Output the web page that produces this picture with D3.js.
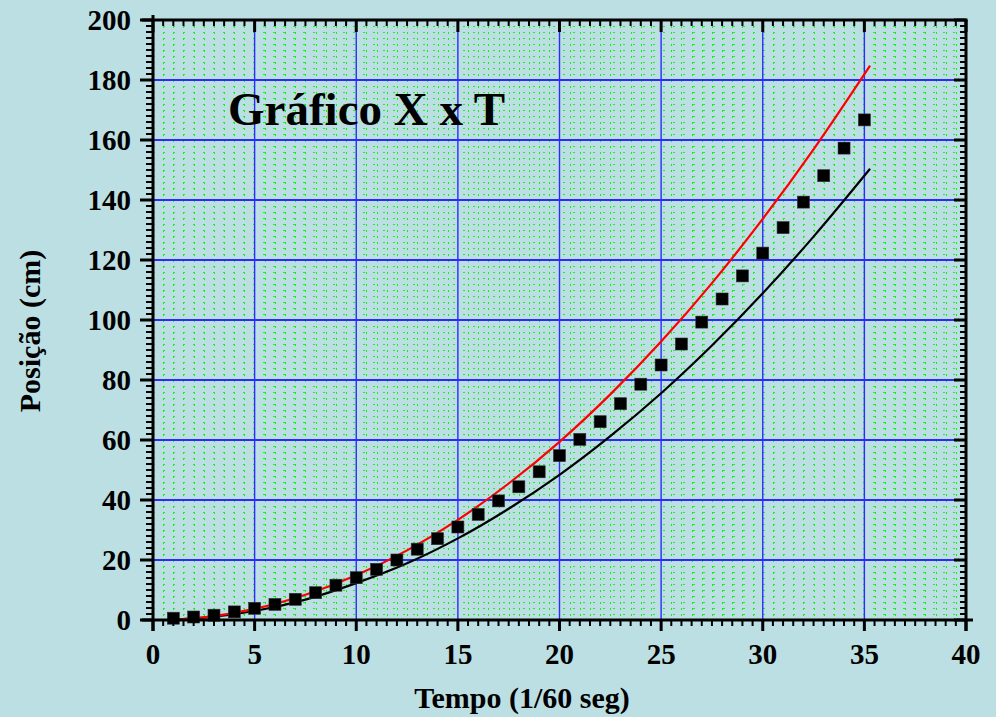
<!DOCTYPE html>
<html><head><meta charset="utf-8">
<script src="https://cdn.jsdelivr.net/npm/d3@7"></script>
<style>
html,body{margin:0;padding:0;background:#bcdfe3;}
svg{display:block;}
text{font-family:"Liberation Serif","Times New Roman",serif;font-weight:bold;fill:#000;}
</style></head>
<body>
<svg id="c" width="996" height="717"></svg>
<script>
// ---- data ----
const tempo = [1,2,3,4,5,6,7,8,9,10,11,12,13,14,15,16,17,18,19,20,21,22,23,24,25,26,27,28,29,30,31,32,33,34,35];
const posicao = [0.6,1.0,1.6,2.7,3.9,5.2,6.9,9.1,11.6,14.1,16.9,20.0,23.6,27.1,31.0,35.2,39.7,44.4,49.4,54.8,60.2,66.1,72.1,78.6,85.0,92.0,99.3,107.0,114.7,122.3,130.8,139.3,148.1,157.3,166.7];
const curveT = [1,2.5,5,7.5,10,12.5,15,17.5,20,22.5,25,27.5,30,32.5,35.28];
const redCurve = [0.15,0.9,3.7,8.4,14.9,23.2,33.4,45.5,59.4,75.2,92.8,112.3,133.7,156.9,184.8];
const blackCurve = [0.12,0.76,3.0,6.8,12.3,18.9,27.2,37.1,48.4,61.3,75.6,91.5,108.9,127.8,150.4];
const xTicks = [0,5,10,15,20,25,30,35,40];
const yTicks = [0,20,40,60,80,100,120,140,160,180,200];
const title = "Gráfico X x T";
const xTitle = "Tempo (1/60 seg)";
const yTitle = "Posição (cm)";

// ---- layout ----
const L = 153, R = 966, T = 20, B = 620;
const svg = d3.select("#c");
svg.append("rect").attr("width",996).attr("height",717).attr("fill","#bcdfe3");
const x = d3.scaleLinear().domain([0,40]).range([L,R]);
const y = d3.scaleLinear().domain([0,200]).range([B,T]);

// minor grid (green dotted)
const xMinor = d3.range(0,40.01,0.5).filter(v=>v%5!==0);
const yMinor = d3.range(0,200.01,2).filter(v=>v%20!==0);
const g = svg.append("g");
g.selectAll("line.vx").data(xMinor).join("line")
  .attr("x1",d=>Math.round(x(d))+0.5).attr("x2",d=>Math.round(x(d))+0.5)
  .attr("y1",T).attr("y2",B)
  .attr("stroke","#11f011").attr("stroke-width",1).attr("stroke-dasharray","2,4");
g.selectAll("line.hy").data(yMinor).join("line")
  .attr("y1",d=>Math.round(y(d))+0.5).attr("y2",d=>Math.round(y(d))+0.5)
  .attr("x1",L).attr("x2",R)
  .attr("stroke","#11f011").attr("stroke-width",1).attr("stroke-dasharray","2,8")
  .attr("opacity",0.9);

// major grid (blue)
g.selectAll("line.gx").data(xTicks.slice(1,-1)).join("line")
  .attr("x1",d=>x(d)).attr("x2",d=>x(d)).attr("y1",T).attr("y2",B)
  .attr("stroke","#2b2bff").attr("stroke-width",1.4);
g.selectAll("line.gy").data(yTicks.slice(1,-1)).join("line")
  .attr("y1",d=>y(d)).attr("y2",d=>y(d)).attr("x1",L).attr("x2",R)
  .attr("stroke","#2b2bff").attr("stroke-width",1.8);

// curves
const line = d3.line().x(d=>x(d[0])).y(d=>y(d[1])).curve(d3.curveMonotoneX);
svg.append("path").datum(curveT.map((t,i)=>[t,blackCurve[i]]))
  .attr("d",line).attr("fill","none").attr("stroke","#000").attr("stroke-width",2.2);
svg.append("path").datum(curveT.map((t,i)=>[t,redCurve[i]]))
  .attr("d",line).attr("fill","none").attr("stroke","#ff0000").attr("stroke-width",2.2);

// points
const s = 12;
svg.selectAll("rect.pt").data(tempo.map((t,i)=>[t,posicao[i]])).join("rect")
  .attr("x",d=>x(d[0])-s/2).attr("y",d=>y(d[1])-s/2)
  .attr("width",s).attr("height",s)
  .attr("fill","#000").attr("stroke","#333").attr("stroke-width",0.6);

// axes
const ax = svg.append("g");
function ln(x1,y1,x2,y2,w){ax.append("line").attr("x1",x1).attr("y1",y1).attr("x2",x2).attr("y2",y2).attr("stroke","#000").attr("stroke-width",w);}
// frame
ln(L,15,L,631,3); ln(R,T,R,631,3);
ln(142,B,973,B,3); ln(142,T,R+1.5,T,3);
// x ticks
const xMinorT = d3.range(0,40.01,0.5).filter(v=>v%5!==0);
xMinorT.forEach(v=>{ ln(x(v),B,x(v),B+6,2); ln(x(v),T,x(v),T+6,2); });
xTicks.forEach(v=>{ ln(x(v),B,x(v),B+11,3); ln(x(v),T,x(v),T+12,3); });
// y ticks
yMinor.forEach(v=>{ ln(L-7,y(v),L,y(v),2); ln(R-6,y(v),R,y(v),2); });
yTicks.forEach(v=>{ ln(L-13,y(v),L,y(v),3); ln(R-12,y(v),R,y(v),3); });

// tick labels
svg.selectAll("text.xt").data(xTicks).join("text")
  .attr("x",d=>x(d)).attr("y",664).attr("text-anchor","middle")
  .attr("font-size",29).text(d=>d);
svg.selectAll("text.yt").data(yTicks).join("text")
  .attr("x",131).attr("y",d=>y(d)+9.5).attr("text-anchor","end")
  .attr("font-size",29).text(d=>d);

// titles
svg.append("text").attr("x",522).attr("y",708).attr("text-anchor","middle")
  .attr("font-size",30).text(xTitle);
svg.append("text").attr("transform","translate(40,331) rotate(-90)")
  .attr("text-anchor","middle").attr("font-size",30).text(yTitle);
svg.append("text").attr("x",228).attr("y",125).attr("font-size",47).text(title);
</script>
</body></html>
